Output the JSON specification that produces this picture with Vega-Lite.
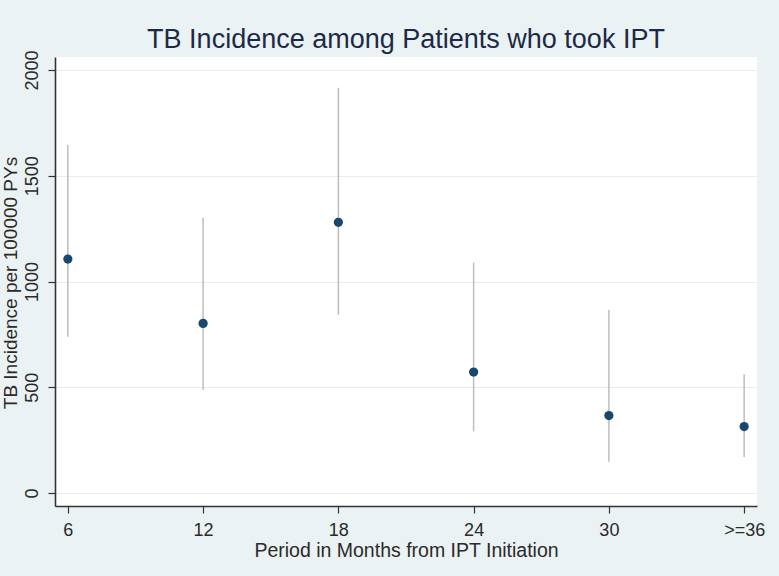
{
  "$schema": "https://vega.github.io/schema/vega-lite/v6.json",
  "width": 702,
  "height": 449,
  "autosize": {"type": "none"},
  "padding": {"left": 55, "top": 57, "right": 22, "bottom": 70},
  "background": "#EAF2F3",
  "config": {
    "font": "Liberation Sans",
    "view": {"fill": "#ffffff", "stroke": null}
  },
  "title": {
    "text": "TB Incidence among Patients who took IPT",
    "font": "Liberation Sans",
    "fontSize": 27,
    "fontWeight": "normal",
    "color": "#1c2a48",
    "anchor": "middle",
    "frame": "group",
    "baseline": "alphabetic",
    "offset": 10,
    "dy": 35
  },
  "data": {
    "values": [
      {"period": "6", "rate": 1106, "lower": 739, "upper": 1645},
      {"period": "12", "rate": 802, "lower": 487, "upper": 1302},
      {"period": "18", "rate": 1280, "lower": 842, "upper": 1916},
      {"period": "24", "rate": 572, "lower": 292, "upper": 1089},
      {"period": "30", "rate": 366, "lower": 148, "upper": 865},
      {"period": ">=36", "rate": 314, "lower": 170, "upper": 561}
    ]
  },
  "encoding": {
    "x": {
      "field": "period",
      "type": "ordinal",
      "sort": null,
      "scale": {"type": "point", "padding": 0.095},
      "axis": {
        "title": "Period in Months from IPT Initiation",
        "titleFontSize": 19.5,
        "titleFontWeight": "normal",
        "titleColor": "#2a2a2a",
        "titleBaseline": "alphabetic",
        "titleY": 50,
        "labelAngle": 0,
        "labelFontSize": 18,
        "labelColor": "#2a2a2a",
        "labelBaseline": "alphabetic",
        "labelPadding": 22,
        "labelOverlap": false,
        "labelFlush": false,
        "tickSize": 7,
        "tickColor": "#333333",
        "tickWidth": 1.2,
        "domainColor": "#333333",
        "domainWidth": 1.6,
        "grid": false
      }
    }
  },
  "layer": [
    {
      "mark": {"type": "rule", "color": "#bdbdbd", "strokeWidth": 1.5},
      "encoding": {
        "y": {
          "field": "lower",
          "type": "quantitative",
          "scale": {"domain": [-61.5, 2061.5], "nice": false, "zero": false},
          "axis": {
            "title": "TB Incidence per 100000 PYs",
            "titleFontSize": 19,
            "titleFontWeight": "normal",
            "titleColor": "#2a2a2a",
            "titleAngle": 270,
            "titleAlign": "center",
            "titleBaseline": "alphabetic",
            "titleX": -39,
            "titleY": 225.5,
            "values": [0, 500, 1000, 1500, 2000],
            "format": "d",
            "labelAngle": 270,
            "labelAlign": "center",
            "labelBaseline": "alphabetic",
            "labelFontSize": 18,
            "labelColor": "#2a2a2a",
            "labelPadding": 11,
            "labelOverlap": false,
            "labelFlush": false,
            "tickSize": 7,
            "tickColor": "#333333",
            "tickWidth": 1.2,
            "domainColor": "#333333",
            "domainWidth": 1.6,
            "grid": true,
            "gridColor": "#E6EEF0",
            "gridWidth": 1.2
          }
        },
        "y2": {"field": "upper"}
      }
    },
    {
      "mark": {"type": "point", "filled": true, "shape": "circle", "size": 85, "color": "#1A476F", "opacity": 1},
      "encoding": {
        "y": {"field": "rate", "type": "quantitative"}
      }
    }
  ]
}
